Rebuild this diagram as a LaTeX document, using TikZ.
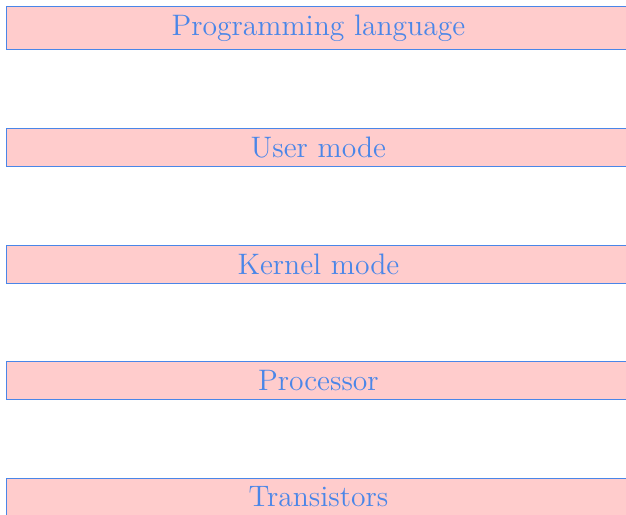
\documentclass[tikz,border=0pt]{standalone}
\usepackage{tikz}
\usetikzlibrary{positioning}
\definecolor{layerblue}{RGB}{74,134,232}

\begin{document}
\begin{tikzpicture}
	% Define styles
	\tikzset{
		layer/.style={rectangle, draw=layerblue, fill=red!20, text=layerblue, font=\fontsize{14.8}{18}\selectfont, inner ysep=4.2pt, minimum width=312pt, align=center, anchor=north west},
		node distance=39pt
	}
	
	\useasboundingbox (0,0) rectangle (313pt,-257pt);
	
	% Nodes
	\node[layer] (lang) at (3pt,-3pt) {Programming language};
	\node[layer, below=of lang] (user) {User mode};
	\node[layer, below=of user] (kernel) {Kernel mode};
	\node[layer, below=of kernel] (cpu) {Processor};
	\node[layer, below=of cpu] (trans) {Transistors};
	
\end{tikzpicture}
\end{document}
